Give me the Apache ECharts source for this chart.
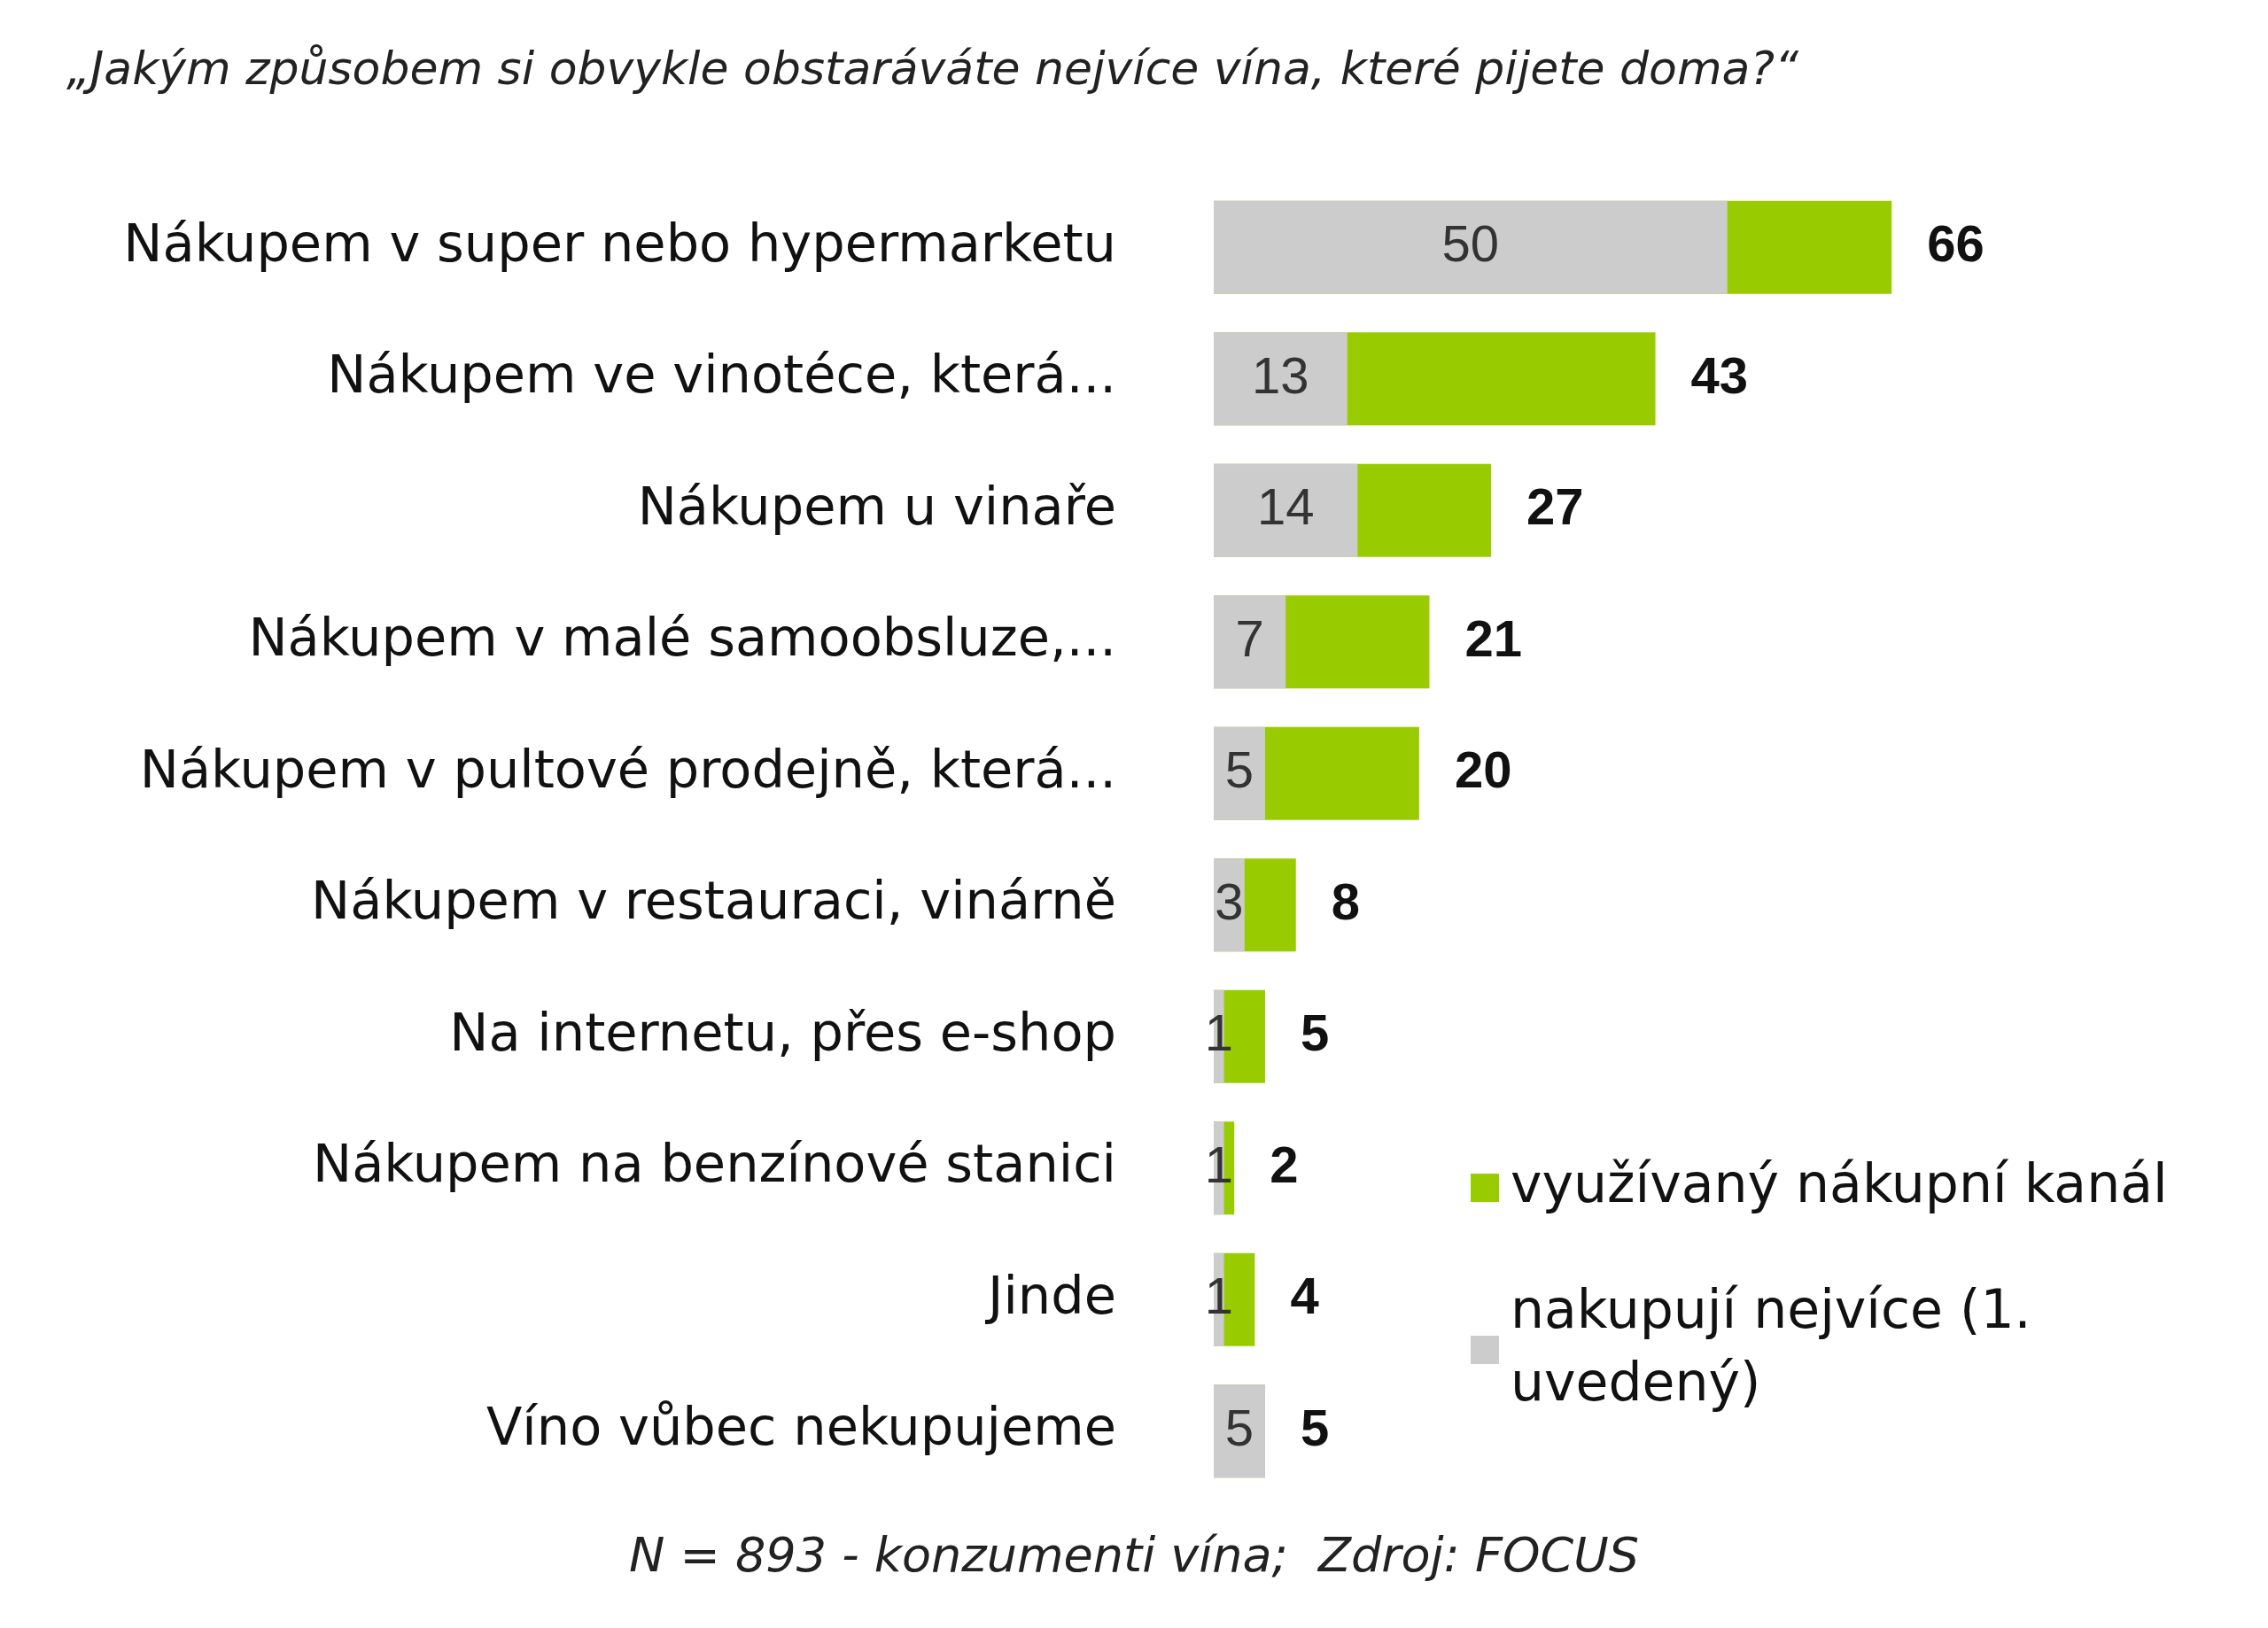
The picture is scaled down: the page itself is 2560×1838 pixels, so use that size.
<!DOCTYPE html>
<html><head><meta charset="utf-8">
<script src="https://cdn.jsdelivr.net/npm/echarts@6/dist/echarts.min.js"></script>
<style>html,body{margin:0;padding:0;background:#fff}#c{width:2560px;height:1838px}</style>
</head><body><div id="c"></div>
<script>
const categories = ["Nákupem v super nebo hypermarketu","Nákupem ve vinotéce, která...","Nákupem u vinaře","Nákupem v malé samoobsluze,...","Nákupem v pultové prodejně, která...","Nákupem v restauraci, vinárně","Na internetu, přes e-shop","Nákupem na benzínové stanici","Jinde","Víno vůbec nekupujeme"];
const usedChannel = [66,43,27,21,20,8,5,2,4,5];
const buyMost = [50,13,14,7,5,3,1,1,1,5];
const chart = echarts.init(document.getElementById('c'));
const F = 'Liberation Sans, Arial, sans-serif';
const W = 'DejaVu Sans, sans-serif';
chart.setOption({
  animation:false,
  title:[{text:'„Jakým způsobem si obvykle obstaráváte nejvíce vína, které pijete doma?“',left:70,top:50,textStyle:{fontFamily:W,fontStyle:'italic',fontWeight:'normal',fontSize:52,color:'#222'}},
         {text:'N = 893 - konzumenti vína;  Zdroj: FOCUS',left:'center',top:1728,textStyle:{fontFamily:W,fontStyle:'italic',fontWeight:'normal',fontSize:54,color:'#222'}}],
  grid:{left:1370,right:19,top:205,height:1485},
  xAxis:{type:'value',min:0,max:101,show:false},
  yAxis:{type:'category',data:categories,inverse:true,axisLine:{show:false},axisTick:{show:false},
    axisLabel:{fontFamily:W,fontSize:59,color:'#111',margin:110}},
  legend:{orient:'vertical',left:1655,top:1295,itemWidth:32,itemHeight:32,itemGap:60,icon:'rect',
    textStyle:{fontFamily:W,fontSize:60,color:'#111',lineHeight:82,padding:[0,0,0,8]},
    data:['využívaný nákupní kanál','nakupují nejvíce (1.\nuvedený)']},
  series:[
    {name:'využívaný nákupní kanál',type:'bar',data:usedChannel,barWidth:105,barGap:'-100%',
     itemStyle:{color:'#99cc00'},
     label:{show:true,position:'right',distance:40,fontFamily:F,fontSize:58,fontWeight:'bold',color:'#111'}},
    {name:'nakupují nejvíce (1.\nuvedený)',type:'bar',data:buyMost,barWidth:105,
     itemStyle:{color:'#cccccc'},
     label:{show:true,position:'inside',fontFamily:F,fontSize:58,color:'#333'}}
  ]
});
</script></body></html>
